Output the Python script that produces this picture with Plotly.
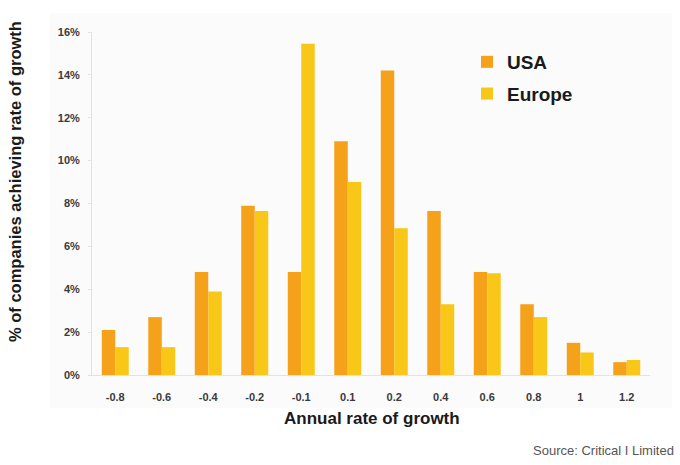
import plotly.graph_objects as go

# Annual growth-rate buckets (x-axis categories)
growth_rates = ["-0.8", "-0.6", "-0.4", "-0.2", "-0.1", "0.1", "0.2", "0.4", "0.6", "0.8", "1", "1.2"]

# Share of companies (%) reaching each growth rate
usa_pct = [2.1, 2.7, 4.8, 7.9, 4.8, 10.9, 14.2, 7.65, 4.8, 3.3, 1.5, 0.6]
europe_pct = [1.3, 1.3, 3.9, 7.65, 15.45, 9.0, 6.85, 3.3, 4.75, 2.7, 1.05, 0.7]

y_ticks = [0, 2, 4, 6, 8, 10, 12, 14, 16]
y_tick_labels = ["0%", "2%", "4%", "6%", "8%", "10%", "12%", "14%", "16%"]

USA_COLOR = "#F5A11A"
EUROPE_COLOR = "#F8C717"
BOLD_FONT = "Liberation Sans, Arial, sans-serif"

fig = go.Figure()
fig.add_trace(go.Bar(name="USA", x=growth_rates, y=usa_pct, legendgroup="usa",
                     marker=dict(color=USA_COLOR, line=dict(width=0))))
fig.add_trace(go.Bar(name="Europe", x=growth_rates, y=europe_pct, legendgroup="europe",
                     marker=dict(color=EUROPE_COLOR, line=dict(width=0))))

fig.update_layout(
    width=680, height=465,
    margin=dict(l=92, r=30, t=32, b=90),
    paper_bgcolor="white",
    plot_bgcolor="rgba(0,0,0,0)",
    barmode="group",
    bargap=0.42,
    bargroupgap=0,
    font=dict(family=BOLD_FONT, color="#333333"),
    legend=dict(
        x=0.672, y=0.968, xanchor="left", yanchor="top",
        bgcolor="rgba(0,0,0,0)",
        font=dict(size=19, color="#1a1a1a", family=BOLD_FONT, weight="bold"),
        itemwidth=30,
        tracegroupgap=4,
    ),
    xaxis=dict(
        type="category",
        showgrid=False,
        showline=True, linecolor="#e2e2e2", linewidth=1,
        ticks="", ticklabelstandoff=12,
        tickfont=dict(size=11, color="#3a3a3a", weight="bold"),
    ),
    yaxis=dict(
        range=[0, 16],
        tickmode="array",
        tickvals=y_ticks,
        ticktext=y_tick_labels,
        showgrid=False, zeroline=False,
        showline=True, linecolor="#e2e2e2", linewidth=1,
        ticks="outside", ticklen=3, tickcolor="#e2e2e2",
        ticklabelstandoff=6,
        tickfont=dict(size=11, color="#3a3a3a", weight="bold"),
    ),
    shapes=[
        # faint panel behind the chart
        dict(type="rect", xref="paper", yref="paper",
             x0=-0.075, x1=1.04, y0=-0.096, y1=1.055,
             fillcolor="#fbfbfb", line=dict(width=0), layer="below"),
    ],
    annotations=[
        dict(text="Annual rate of growth", xref="paper", yref="paper",
             x=(372 - 92) / 558, y=(375 - 418) / 343,
             xanchor="center", yanchor="middle", showarrow=False,
             font=dict(size=17, color="#1a1a1a", family=BOLD_FONT, weight="bold")),
        dict(text="% of companies achieving rate of growth", xref="paper", yref="paper",
             x=(15 - 92) / 558, y=(375 - 182) / 343, textangle=-90,
             xanchor="center", yanchor="middle", showarrow=False,
             font=dict(size=16.5, color="#1a1a1a", family=BOLD_FONT, weight="bold")),
        dict(text="Source: Critical I Limited", xref="paper", yref="paper",
             x=(676 - 92) / 558, y=(375 - 450) / 343,
             xanchor="right", yanchor="middle", showarrow=False,
             font=dict(size=13, color="#555555",
                       family="Liberation Sans Narrow, Arial Narrow, sans-serif")),
    ],
)

fig.write_html("out.html")
